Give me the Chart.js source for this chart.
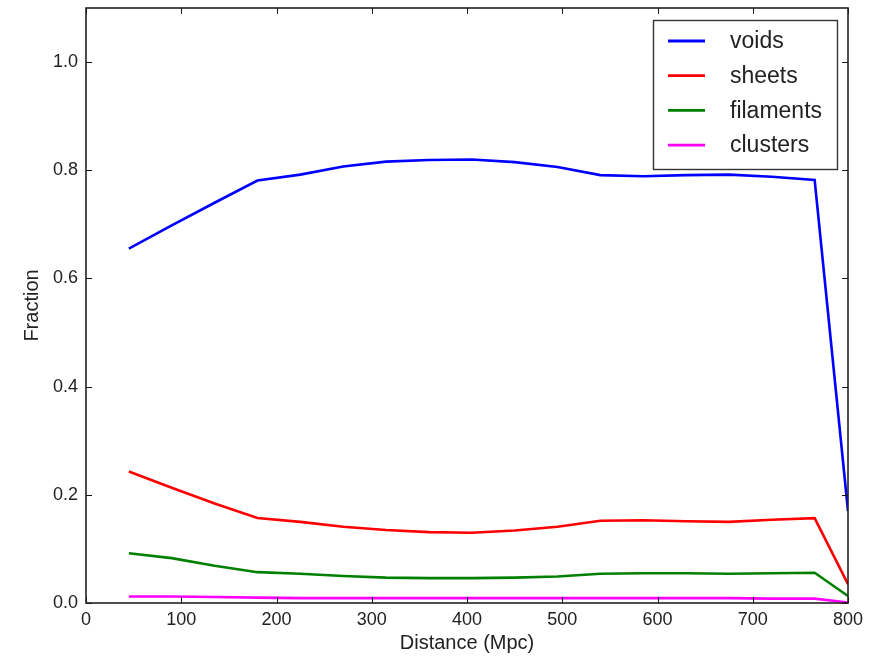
<!DOCTYPE html>
<html>
<head>
<meta charset="utf-8">
<title>Fraction vs distance</title>
<script src="https://cdn.jsdelivr.net/npm/chart.js@4/dist/chart.umd.min.js"></script>
<style>
  html, body { margin: 0; padding: 0; background: #ffffff; }
  #wrap { width: 876px; height: 658px; }
</style>
</head>
<body>
<div id="wrap"><canvas id="chart" width="876" height="658"></canvas></div>
<script>
// Distance bins (Mpc)
const distance = [45, 90, 135, 180, 225, 270, 315, 360, 405, 450, 495, 540, 585, 630, 675, 720, 765, 800];

// Fraction of volume in each cosmic-web environment
const voids     = [0.655, 0.698, 0.740, 0.781, 0.792, 0.807, 0.816, 0.819, 0.820, 0.815, 0.806, 0.791, 0.789, 0.791, 0.792, 0.788, 0.782, 0.170];
const sheets    = [0.243, 0.213, 0.184, 0.157, 0.150, 0.141, 0.135, 0.131, 0.130, 0.134, 0.141, 0.152, 0.153, 0.151, 0.150, 0.154, 0.157, 0.035];
const filaments = [0.092, 0.083, 0.069, 0.057, 0.054, 0.050, 0.047, 0.046, 0.046, 0.047, 0.049, 0.054, 0.055, 0.055, 0.054, 0.055, 0.056, 0.013];
const clusters  = [0.012, 0.012, 0.011, 0.010, 0.009, 0.009, 0.009, 0.009, 0.009, 0.009, 0.009, 0.009, 0.009, 0.009, 0.009, 0.008, 0.008, 0.001];

const seriesNames = ['voids', 'sheets', 'filaments', 'clusters'];
const seriesColors = ['#0000ff', '#ff0000', '#008000', '#ff00ff'];

// Axis ticks
const xTicks = [0, 100, 200, 300, 400, 500, 600, 700, 800];
const yTicks = [0.0, 0.2, 0.4, 0.6, 0.8, 1.0];

const FONT = '"Liberation Sans", Arial, Helvetica, sans-serif';

const toPoints = ys => distance.map((d, i) => ({ x: d, y: ys[i] }));

const datasets = [voids, sheets, filaments, clusters].map((ys, i) => ({
  label: seriesNames[i],
  data: toPoints(ys),
  borderColor: seriesColors[i],
  backgroundColor: seriesColors[i],
  borderWidth: 2.6,
  pointRadius: 0,
  tension: 0,
  fill: false
}));

// Axes frame with inward ticks on all four sides
const framePlugin = {
  id: 'frame',
  afterDatasetsDraw(chart) {
    const { ctx, chartArea: a, scales } = chart;
    const len = 6;
    ctx.save();
    ctx.strokeStyle = '#111111';
    ctx.lineWidth = 1;
    ctx.beginPath();
    xTicks.forEach(v => {
      const px = Math.round(scales.x.getPixelForValue(v)) + 0.5;
      ctx.moveTo(px, a.bottom); ctx.lineTo(px, a.bottom - len);
      ctx.moveTo(px, a.top);    ctx.lineTo(px, a.top + len);
    });
    yTicks.forEach(v => {
      const py = Math.round(scales.y.getPixelForValue(v)) + 0.5;
      ctx.moveTo(a.left, py);  ctx.lineTo(a.left + len, py);
      ctx.moveTo(a.right, py); ctx.lineTo(a.right - len, py);
    });
    ctx.stroke();
    ctx.lineWidth = 1.6;
    ctx.strokeStyle = '#222222';
    ctx.strokeRect(a.left, a.top, a.right - a.left, a.bottom - a.top);
    ctx.restore();
  }
};

// Boxed legend in the upper right corner of the plot
const legendBoxPlugin = {
  id: 'legendBox',
  afterDraw(chart) {
    const { ctx, chartArea: a } = chart;
    const w = 184, h = 149;
    const x0 = a.right - 11 - w, y0 = a.top + 12;
    ctx.save();
    ctx.fillStyle = '#ffffff';
    ctx.fillRect(x0, y0, w, h);
    ctx.strokeStyle = '#333333';
    ctx.lineWidth = 1.4;
    ctx.strokeRect(x0 + 0.5, y0 + 0.5, w, h);
    ctx.font = '23px ' + FONT;
    ctx.textBaseline = 'middle';
    ctx.textAlign = 'left';
    chart.data.datasets.forEach((ds, i) => {
      const y = y0 + 21 + i * 34.7;
      ctx.strokeStyle = ds.borderColor;
      ctx.lineWidth = 2.8;
      ctx.beginPath();
      ctx.moveTo(x0 + 15, y);
      ctx.lineTo(x0 + 52, y);
      ctx.stroke();
      ctx.fillStyle = '#222222';
      ctx.fillText(ds.label, x0 + 77, y + 1);
    });
    ctx.restore();
  }
};

const bgPlugin = {
  id: 'bg',
  beforeDraw(chart) {
    const { ctx, width, height } = chart;
    ctx.save();
    ctx.fillStyle = '#ffffff';
    ctx.fillRect(0, 0, width, height);
    ctx.restore();
  }
};

new Chart(document.getElementById('chart'), {
  type: 'line',
  data: { datasets },
  plugins: [bgPlugin, framePlugin, legendBoxPlugin],
  options: {
    responsive: false,
    animation: false,
    devicePixelRatio: 1,
    layout: { padding: { left: 0, right: 28, top: 8, bottom: 0 } },
    plugins: {
      legend: { display: false },
      tooltip: { enabled: false }
    },
    scales: {
      x: {
        type: 'linear',
        min: 0,
        max: 800,
        afterFit(s) { s.height = 55; s.paddingLeft = 0; s.paddingRight = 0; },
        afterBuildTicks(s) { s.ticks = xTicks.map(v => ({ value: v })); },
        grid: { display: false, drawTicks: false },
        border: { display: false },
        ticks: {
          padding: 6,
          color: '#222222',
          font: { family: FONT, size: 18 },
          maxRotation: 0,
          callback: v => String(v)
        },
        title: {
          display: true,
          text: 'Distance (Mpc)',
          color: '#222222',
          font: { family: FONT, size: 20 },
          padding: { top: 0, bottom: 3 }
        }
      },
      y: {
        type: 'linear',
        min: 0,
        max: 1.1,
        afterFit(s) { s.width = 86; s.paddingTop = 0; s.paddingBottom = 0; },
        afterBuildTicks(s) { s.ticks = yTicks.map(v => ({ value: v })); },
        grid: { display: false, drawTicks: false },
        border: { display: false },
        ticks: {
          padding: 8,
          color: '#222222',
          font: { family: FONT, size: 18 },
          callback: v => Number(v).toFixed(1)
        },
        title: {
          display: true,
          text: 'Fraction',
          color: '#222222',
          font: { family: FONT, size: 20 },
          padding: { top: 20, bottom: 0 }
        }
      }
    }
  }
});
</script>
</body>
</html>
